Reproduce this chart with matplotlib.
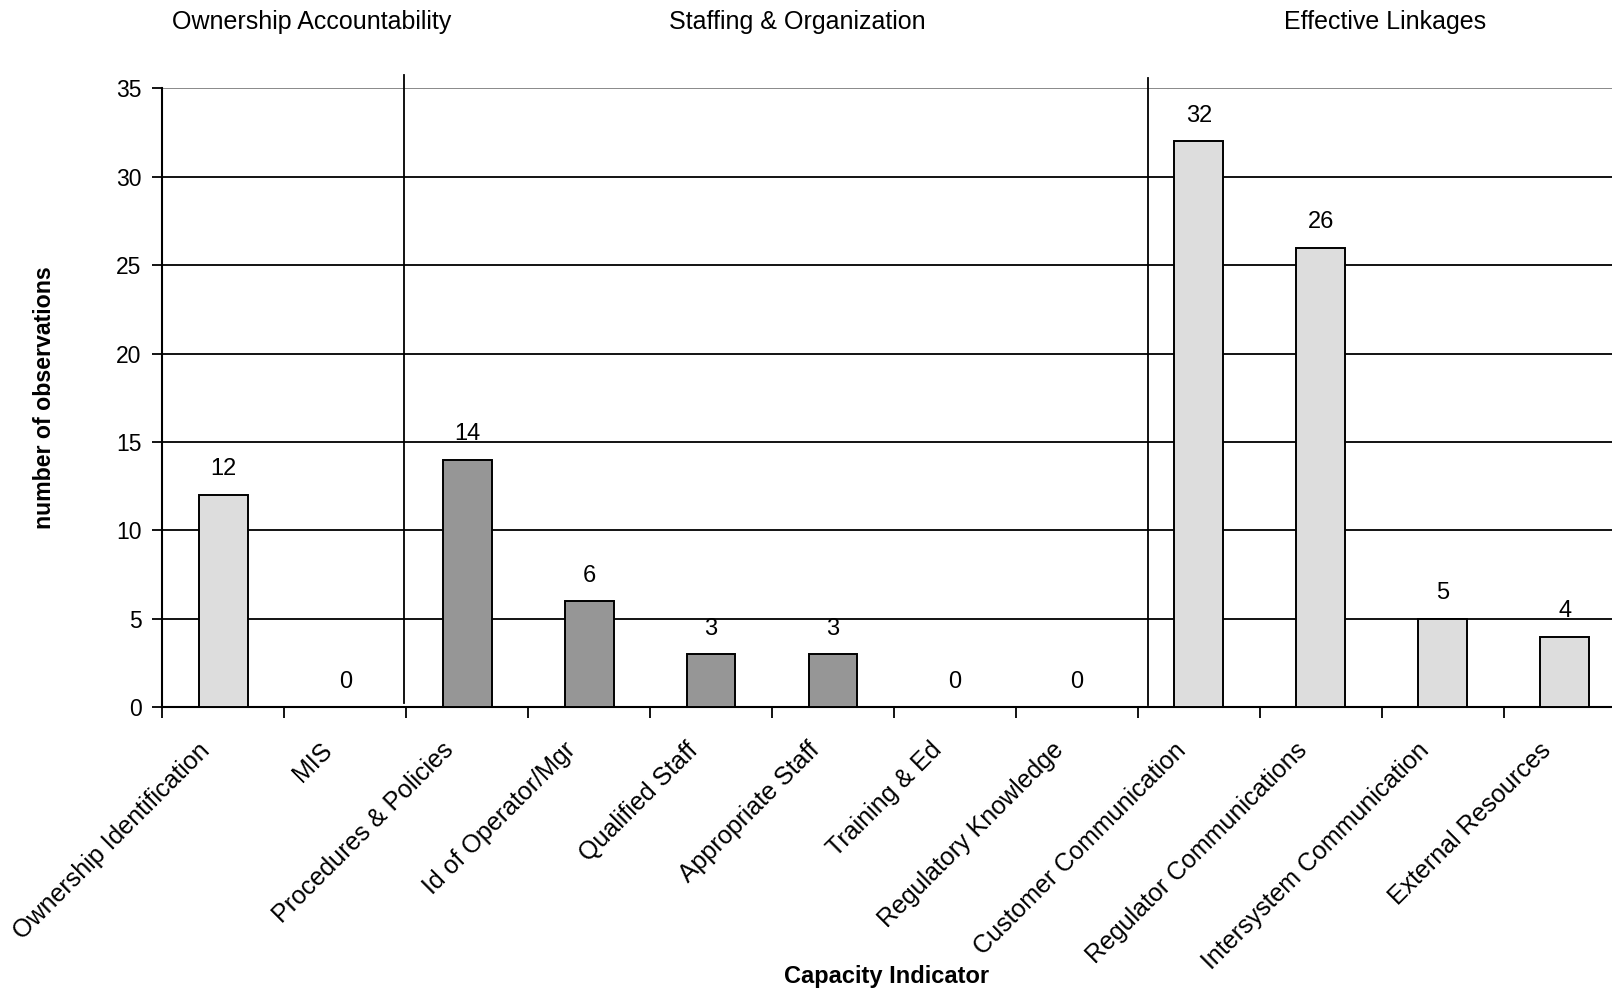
import matplotlib
matplotlib.use("Agg")
import matplotlib.pyplot as plt
import matplotlib.transforms as mtransforms
from matplotlib.lines import Line2D

plt.rcParams['font.family'] = ['Liberation Sans', 'DejaVu Sans']

# Capacity indicators and observation counts
categories = [
    "Ownership Identification", "MIS", "Procedures & Policies",
    "Id of Operator/Mgr", "Qualified Staff", "Appropriate Staff",
    "Training & Ed", "Regulatory Knowledge", "Customer Communication",
    "Regulator Communications", "Intersystem Communication",
    "External Resources",
]
observations = [12, 0, 14, 6, 3, 3, 0, 0, 32, 26, 5, 4]
group_of_category = [0, 0, 1, 1, 1, 1, 1, 1, 2, 2, 2, 2]
group_titles = ["Ownership Accountability", "Staffing & Organization", "Effective Linkages"]
y_ticks = [0, 5, 10, 15, 20, 25, 30, 35]

group_colors = ["#DDDDDD", "#969696", "#DDDDDD"]

W, H = 1612, 991
fig = plt.figure(figsize=(W / 100, H / 100), dpi=100)
left_px, right_px, top_px, bottom_px = 162.4, 1625.6, 88.4, 707.3
ax = fig.add_axes([left_px / W, 1 - bottom_px / H,
                   (right_px - left_px) / W, (bottom_px - top_px) / H])

x = list(range(len(categories)))
colors = [group_colors[g] for g in group_of_category]

# horizontal grid lines (top one lighter, as the plot-area border)
for t in y_ticks[1:]:
    ax.axhline(t, color="#808080" if t == 35 else "black", lw=1.3, zorder=1)

bars = ax.bar(x, observations, width=0.4, color=colors, edgecolor="black",
              linewidth=1.4, zorder=3)

for xi, v in zip(x, observations):
    ax.annotate(str(v), (xi, v), xytext=(0, 18.5), textcoords="offset points",
                ha="center", va="center", fontsize=17, zorder=4)

ax.set_xlim(-0.5, len(categories) - 0.5)
ax.set_ylim(0, 35)
ax.set_yticks(y_ticks)
ax.tick_params(axis="y", labelsize=16.5, length=7, width=1.3, direction="out", pad=8)

# category ticks sit on the boundaries between categories
ax.set_xticks([i - 0.5 for i in range(len(categories) + 1)])
ax.set_xticklabels([])
ax.tick_params(axis="x", length=8, width=1.3, direction="out")
for xi, lab in zip(x, categories):
    ax.text(xi - 0.14, -2.22, lab, rotation=45, rotation_mode="anchor",
            ha="right", va="center", fontsize=18)

for side in ["top", "right"]:
    ax.spines[side].set_visible(False)
for side in ["left", "bottom"]:
    ax.spines[side].set_linewidth(1.5)

ax.set_ylabel("number of observations", fontsize=16.7, fontweight="bold", labelpad=43)
fig.text(887 / W, 1 - 976 / H, "Capacity Indicator", ha="center", va="center",
         fontsize=17, fontweight="bold")

# separators between indicator groups
trans = mtransforms.blended_transform_factory(ax.transData, ax.transAxes)
for xs, y0, y1 in [(1.48, 0.007, 1.022), (7.58, 0.004, 1.017)]:
    ax.add_line(Line2D([xs, xs], [y0, y1], transform=trans, color="black",
                       lw=1.3, clip_on=False, zorder=5))

# group titles above the plot
for xc, title in zip([0.72, 4.71, 9.53], group_titles):
    ax.text(xc, 1 + (top_px - 21.6) / (bottom_px - top_px), title, transform=trans,
            ha="center", va="center", fontsize=18)

fig.savefig("out.png", dpi=100)
